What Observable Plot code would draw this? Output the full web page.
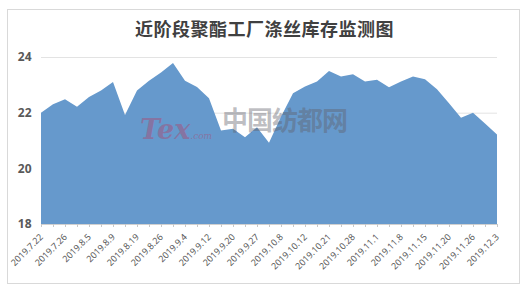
<!DOCTYPE html>
<html><head><meta charset="utf-8">
<script src="https://cdn.jsdelivr.net/npm/d3@7"></script>
<script src="https://cdn.jsdelivr.net/npm/@observablehq/plot@0.6"></script>
<style>
body{margin:0;background:#fff;width:529px;height:290px;overflow:hidden;position:relative;font-family:"Noto Sans",sans-serif}
#frame{position:absolute;left:7px;top:9px;width:513px;height:275px;border:1px solid #d9d9d9;box-sizing:border-box}
#title{position:absolute;left:0;width:529px;top:15px;text-align:center;font-weight:bold;font-size:18px;font-family:"Noto Sans CJK SC",sans-serif;color:#404040;letter-spacing:0.5px}
#chart{position:absolute;left:0;top:0}
#wm{position:absolute;left:222px;top:100px;font-family:"Noto Sans CJK SC",sans-serif;font-weight:bold;font-size:26px;color:rgba(95,95,105,0.42);letter-spacing:-1px;white-space:nowrap}
#tex{position:absolute;left:140px;top:114px;font-family:"DejaVu Serif",serif;font-style:italic;font-weight:bold;font-size:27px;color:rgba(165,80,120,0.5);white-space:nowrap}
#tex span{font-size:9px;font-weight:normal}
</style></head>
<body>
<div id="frame"></div>
<div id="chart"></div>
<div id="title">近阶段聚酯工厂涤丝库存监测图</div>
<div id="tex">Tex<span>.com</span></div>
<div id="wm">中国纺都网</div>
<script>
// weekly inventory (days), 39 observations
const values = [22.0, 22.30, 22.48, 22.21, 22.56, 22.80, 23.10, 21.92, 22.80, 23.15,
  23.44, 23.78, 23.15, 22.92, 22.52, 21.36, 21.42, 21.12, 21.48, 20.92,
  21.85, 22.70, 22.94, 23.12, 23.50, 23.30, 23.38, 23.12, 23.18, 22.91,
  23.12, 23.30, 23.20, 22.84, 22.34, 21.82, 22.00, 21.61, 21.22];
// labels shown on every second observation
const tickLabels = ["2019.7.22","2019.7.26","2019.8.5","2019.8.9","2019.8.19","2019.8.26",
  "2019.9.4","2019.9.12","2019.9.20","2019.9.27","2019.10.8","2019.10.12","2019.10.21",
  "2019.10.28","2019.11.1","2019.11.8","2019.11.15","2019.11.20","2019.11.26","2019.12.3"];
const yTicks = [18, 20, 22, 24];
const baseline = 18;

const idx = values.map((d, i) => i);
const labelIdx = tickLabels.map((d, i) => i * 2);

const chart = Plot.plot({
  width: 529, height: 290,
  marginLeft: 41, marginRight: 32, marginTop: 57, marginBottom: 66,
  style: {background: "transparent", fontFamily: "Noto Sans, sans-serif"},
  x: {type: "linear", domain: [0, values.length - 1]},
  y: {domain: [yTicks[0], yTicks[yTicks.length - 1]]},
  marks: [
    Plot.gridY(yTicks.slice(1), {stroke: "#e3e3e3", strokeOpacity: 1}),
    Plot.areaY(values, {x: (d, i) => i, y1: baseline, y2: d => d, fill: "#6699cc", curve: "linear"}),
    Plot.ruleY([baseline], {stroke: "#d0d0d0"}),
    Plot.axisX(idx, {tickSize: 3, tickFormat: () => "", stroke: "#c8c8c8"}),
    Plot.axisX(labelIdx, {tickSize: 0, tickPadding: 11, tickRotate: -45, fontSize: 9, fill: "#595959",
      tickFormat: i => tickLabels[i / 2]}),
    Plot.axisY(yTicks, {tickSize: 0, tickPadding: 10, fontSize: 12, fontWeight: "bold", fill: "#595959"})
  ]
});
document.getElementById("chart").appendChild(chart);
</script>
</body></html>
